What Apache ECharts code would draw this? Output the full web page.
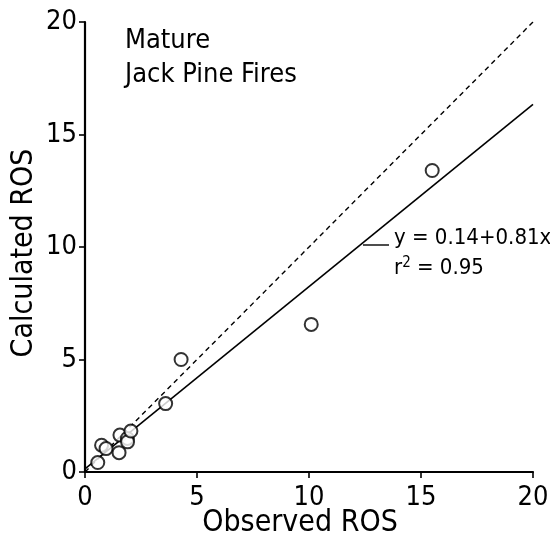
<!DOCTYPE html>
<html>
<head>
<meta charset="utf-8">
<script src="https://cdn.jsdelivr.net/npm/echarts@6/dist/echarts.min.js"></script>
<style>
  html, body { margin: 0; padding: 0; background: #fff; }
  #chart { width: 550px; height: 547px; }
</style>
</head>
<body>
<div id="chart"></div>
<script>
// observed vs calculated rate of spread
var observed   = [0.57, 0.74, 0.94, 1.52, 1.56, 1.89, 1.90, 2.05, 3.60, 4.29, 10.1, 15.5];
var calculated = [0.42, 1.19, 1.04, 0.86, 1.64, 1.49, 1.34, 1.82, 3.04, 5.00, 6.56, 13.4];
var axisTicks = [0, 5, 10, 15, 20];
// regression y = 0.14 + 0.81x, end points
var fitLine = [[0, 0.14], [20, 16.34]];
var oneToOne = [[0, 0], [20, 20]];

var font = "'DejaVu Sans Condensed', 'Liberation Sans Narrow', 'DejaVu Sans'";
var points = observed.map(function (x, i) { return [x, calculated[i]]; });

var chart = echarts.init(document.getElementById("chart"));

function axisOpt(name) {
  return {
    type: "value",
    min: axisTicks[0],
    max: axisTicks[axisTicks.length - 1],
    interval: 5,
    name: name,
    nameLocation: "middle",
    nameMoveOverlap: false,
    nameTextStyle: { color: "#000", fontFamily: font, fontSize: 30 },
    axisLine: { show: true, lineStyle: { color: "#000", width: 2.2 } },
    axisTick: { show: true, length: 6, lineStyle: { color: "#000", width: 1.6 } },
    axisLabel: { color: "#000", fontFamily: font, fontSize: 27, margin: 8 },
    splitLine: { show: false }
  };
}

var xAxis = axisOpt("Observed ROS");
xAxis.nameGap = 36;
xAxis.axisLabel.margin = 12;
xAxis.nameTextStyle.padding = [0, 18, 0, 0];
var yAxis = axisOpt("Calculated ROS");
yAxis.nameGap = 46;
yAxis.nameTextStyle.padding = [0, 12, 0, 0];

var option = {
  animation: false,
  backgroundColor: "#fff",
  grid: { left: 85, right: 17, top: 22, bottom: 75, outerBoundsMode: "none", containLabel: false },
  title: {
    text: "Mature\nJack Pine Fires",
    left: 120,
    top: 19,
    textStyle: { color: "#000", fontFamily: font, fontSize: 27, fontWeight: "normal", lineHeight: 34 }
  },
  xAxis: xAxis,
  yAxis: yAxis,
  series: [
    {
      type: "line",
      data: oneToOne,
      symbol: "none",
      lineStyle: { color: "#000", width: 1.4, type: [5, 4] },
      z: 1
    },
    {
      type: "line",
      data: fitLine,
      symbol: "none",
      lineStyle: { color: "#000", width: 1.6 },
      z: 2
    },
    {
      type: "scatter",
      data: points,
      symbol: "circle",
      symbolSize: 13,
      itemStyle: { color: "#fff", borderColor: "#000", borderWidth: 2 },
      z: 3
    }
  ],
  graphic: [
    {
      type: "line",
      shape: { x1: 363, y1: 245, x2: 389, y2: 245 },
      style: { stroke: "#000", lineWidth: 1.4 }
    },
    {
      type: "text",
      left: 394,
      top: 227,
      style: {
        text: "y = 0.14+0.81x",
        fill: "#000",
        font: "22px " + font
      }
    },
    {
      type: "text",
      left: 394,
      top: 256,
      style: {
        text: "r{s|2} = 0.95",
        fill: "#000",
        font: "22px " + font,
        rich: { s: { fontSize: 15, fontFamily: font, verticalAlign: "top", padding: [0, 0, 10, 0] } }
      }
    }
  ]
};

chart.setOption(option);
window.addEventListener("resize", function () { chart.resize(); });
</script>
</body>
</html>
